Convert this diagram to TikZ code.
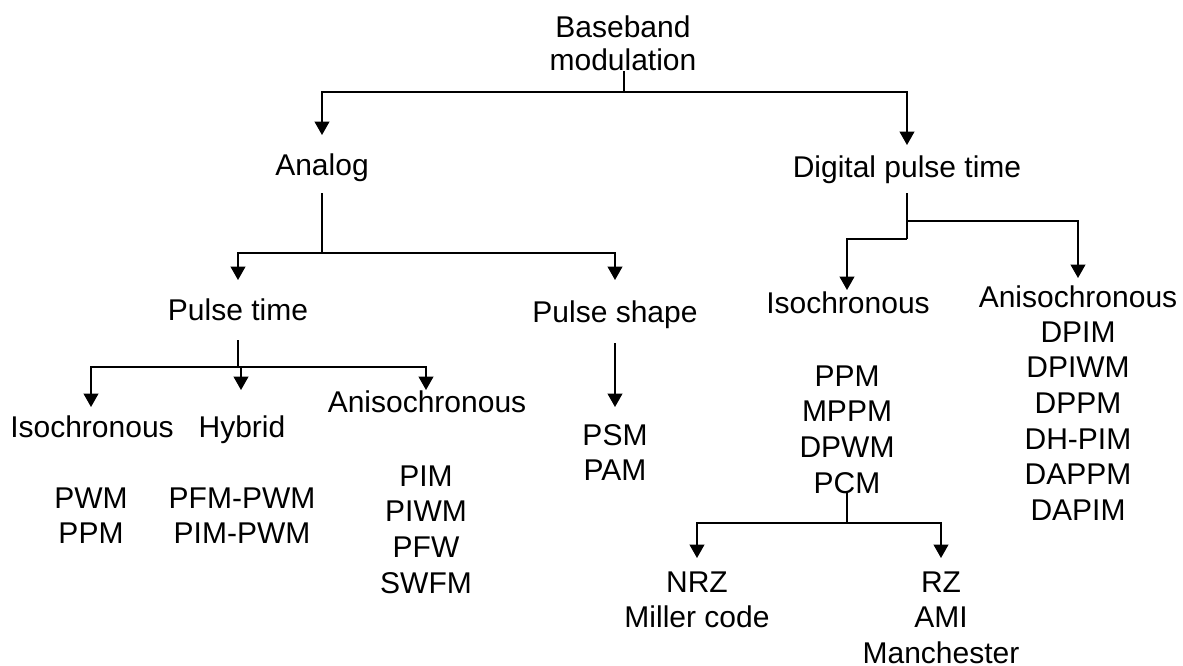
\documentclass[tikz,border=0pt]{standalone}
\usepackage{fontspec}
\setmainfont{Liberation Sans}
\usetikzlibrary{arrows.meta}
\newcommand\mylines[1]{\begin{tabular}[t]{@{}c@{}}#1\end{tabular}}
\begin{document}
\begin{tikzpicture}[x=0.75pt,y=-0.75pt,
  txt/.style={inner sep=0pt, anchor=base, font=\fontsize{22.5pt}{26.8pt}\selectfont},
  ln/.style={line width=1.3pt},
  arr/.style={line width=1.3pt, -{Triangle[width=11pt,length=10pt]}}]
\useasboundingbox (0,0) rectangle (1183,665);
% text nodes
\node[txt, font=\fontsize{22.5pt}{24.75pt}\selectfont] (root) at (623,37) {\mylines{Baseband\\modulation}};
\node[txt] (analog) at (322,175) {Analog};
\node[txt] (digital) at (907,177) {Digital pulse time};
\node[txt] (ptime) at (238,320) {Pulse time};
\node[txt] (pshape) at (615,322) {Pulse shape};
\node[txt] (isoL) at (92,437) {Isochronous};
\node[txt] (hybrid) at (242,437) {Hybrid};
\node[txt] (anisoL) at (427,412) {Anisochronous};
\node[txt] (pwm) at (91,508) {\mylines{PWM\\PPM}};
\node[txt] (pfm) at (242,508) {\mylines{PFM-PWM\\PIM-PWM}};
\node[txt] (pim) at (426,486) {\mylines{PIM\\PIWM\\PFW\\SWFM}};
\node[txt] (psm) at (615,445) {\mylines{PSM\\PAM}};
\node[txt] (isoR) at (848,313) {Isochronous};
\node[txt] (anisoR) at (1078,307) {Anisochronous};
\node[txt] (dpim) at (1078,342) {\mylines{DPIM\\DPIWM\\DPPM\\DH-PIM\\DAPPM\\DAPIM}};
\node[txt] (ppm) at (847,386) {\mylines{PPM\\MPPM\\DPWM\\PCM}};
\node[txt] (nrz) at (697,592) {\mylines{NRZ\\Miller code}};
\node[txt] (rz) at (941,592) {\mylines{RZ\\AMI\\Manchester}};
% junction and tip coordinates
\coordinate (r0) at (624,71);
\coordinate (r1) at (624,92);
\coordinate (tA) at (322,135);
\coordinate (tD) at (907,145);
\coordinate (a0) at (322,193);
\coordinate (a1) at (322,253);
\coordinate (tPT) at (238,280);
\coordinate (tPS) at (615,280);
\coordinate (d0) at (907,193);
\coordinate (d1) at (907,221);
\coordinate (d2) at (907,239);
\coordinate (tAR) at (1078,278);
\coordinate (tIR) at (847,290);
\coordinate (p0) at (238,340);
\coordinate (p1) at (238,367);
\coordinate (tIL) at (91,407);
\coordinate (h1) at (241,367);
\coordinate (tH) at (241,390);
\coordinate (tAL) at (426,390);
\coordinate (s0) at (615,343);
\coordinate (tS) at (615,407);
\coordinate (c0) at (847,493);
\coordinate (c1) at (847,523);
\coordinate (tN) at (697,558);
\coordinate (tR) at (941,558);
% connectors
\draw[ln] (r0) -- (r1);
\draw[arr] (r1) -| (tA);
\draw[arr] (r1) -| (tD);
\draw[ln] (a0) -- (a1);
\draw[arr] (a1) -| (tPT);
\draw[arr] (a1) -| (tPS);
\draw[ln] (d0) -- (d2);
\draw[arr] (d1) -| (tAR);
\draw[arr] (d2) -| (tIR);
\draw[ln] (p0) -- (p1);
\draw[arr] (p1) -| (tIL);
\draw[arr] (p1) -| (tAL);
\draw[arr] (h1) -- (tH);
\draw[arr] (s0) -- (tS);
\draw[ln] (c0) -- (c1);
\draw[arr] (c1) -| (tN);
\draw[arr] (c1) -| (tR);
\end{tikzpicture}
\end{document}
